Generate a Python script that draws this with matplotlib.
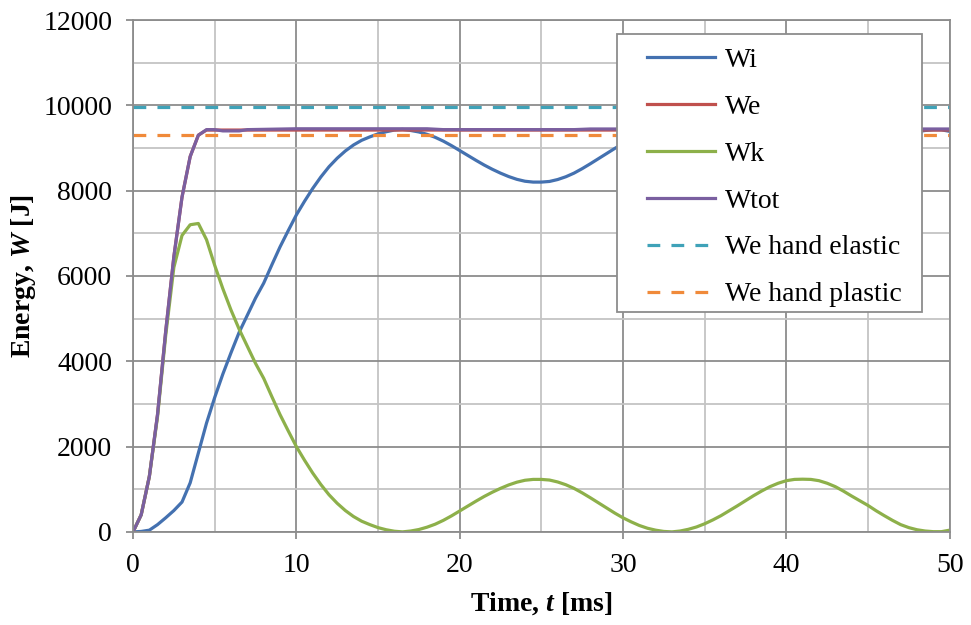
import matplotlib
matplotlib.use('Agg')
import matplotlib.pyplot as plt
import numpy as np
from matplotlib.ticker import MultipleLocator
from matplotlib.patches import Rectangle

# Serif, Times-like text as in the Excel chart
plt.rcParams['font.family'] = ['Liberation Serif', 'DejaVu Serif']
plt.rcParams['mathtext.fontset'] = 'custom'
plt.rcParams['mathtext.it'] = 'Liberation Serif:bold:italic'
plt.rcParams['mathtext.rm'] = 'Liberation Serif:bold'

# time grid [ms], 0.5 ms steps
t = np.arange(0, 50.5, 0.5)

# Energies [J]
Wi = [0, 10, 40, 170, 330, 500, 700, 1150, 1850, 2550,
      3150, 3700, 4200, 4680, 5080, 5480, 5830, 6260, 6680, 7060,
      7430, 7750, 8050, 8320, 8560, 8760, 8930, 9070, 9180, 9260,
      9330, 9380, 9420, 9435, 9410, 9375, 9320, 9250, 9160, 9055,
      8940, 8825, 8710, 8600, 8500, 8410, 8330, 8265, 8220, 8200,
      8200, 8215, 8260, 8325, 8410, 8515, 8630, 8750, 8870, 8990,
      9100, 9195, 9280, 9345, 9390, 9420, 9430, 9410, 9370, 9315,
      9240, 9150, 9050, 8935, 8820, 8700, 8580, 8470, 8370, 8290,
      8230, 8200, 8195, 8200, 8230, 8290, 8370, 8475, 8590, 8700,
      8810, 8935, 9050, 9160, 9260, 9330, 9380, 9410, 9425, 9425,
      9390]
Wk = [0, 400, 1300, 2700, 4600, 6200, 6950, 7200, 7230, 6850,
      6250, 5700, 5200, 4750, 4350, 3950, 3600, 3170, 2750, 2370,
      2000, 1680, 1380, 1110, 870, 670, 500, 360, 250, 170,
      100, 50, 15, 0, 20, 55, 110, 180, 270, 375,
      490, 605, 720, 830, 930, 1020, 1100, 1165, 1210, 1230,
      1230, 1215, 1170, 1105, 1020, 915, 800, 680, 560, 440,
      330, 235, 150, 85, 40, 10, 0, 20, 60, 115,
      190, 280, 380, 495, 610, 730, 850, 960, 1060, 1140,
      1200, 1230, 1235, 1230, 1200, 1140, 1060, 955, 840, 730,
      620, 495, 380, 270, 170, 100, 50, 20, 5, 5,
      40]

t_we = [0, 0.5, 1, 1.5, 2, 2.5, 3, 3.5, 4, 4.5, 10, 20, 30, 40, 50]
We = [0, 400, 1300, 2750, 4700, 6450, 7850, 8800, 9300, 9420,
      9420, 9420, 9420, 9420, 9420]

t_tot = [0, 0.5, 1, 1.5, 2, 2.5, 3, 3.5, 4, 4.5, 5, 5.5, 6.5, 7,
         10, 18, 19, 27, 28, 50]
Wtot = [0, 400, 1300, 2750, 4700, 6450, 7850, 8800, 9300, 9430,
        9430, 9400, 9400, 9430, 9450, 9450, 9430, 9430, 9445, 9445]

We_elastic = 9960
We_plastic = 9300

fig = plt.figure(figsize=(9.71, 6.25), dpi=100)
ax = fig.add_axes([0.137, 0.149, 0.841, 0.819])

lw = 2.3
ax.plot(t, Wi, color='#4471B0', lw=lw, label='Wi')
ax.plot(t_we, We, color='#C0504D', lw=lw, label='We')
ax.plot(t, Wk, color='#8DB04A', lw=lw, label='Wk')
ax.plot(t_tot, Wtot, color='#7A5FA0', lw=lw, label='Wtot')
ax.plot([0, 50], [We_elastic, We_elastic], color='#3FA2B8', lw=lw,
        dashes=(4, 3.5), label='We hand elastic')
ax.plot([0, 50], [We_plastic, We_plastic], color='#F08A3A', lw=lw,
        dashes=(4, 3.5), label='We hand plastic')

ax.set_xlim(0, 50)
ax.set_ylim(0, 12000)
ax.xaxis.set_major_locator(MultipleLocator(10))
ax.xaxis.set_minor_locator(MultipleLocator(5))
ax.yaxis.set_major_locator(MultipleLocator(2000))
ax.yaxis.set_minor_locator(MultipleLocator(1000))
ax.grid(which='major', color='#8C8C8C', lw=1.3)
ax.grid(which='minor', color='#C4C4C4', lw=1.3)
ax.set_axisbelow(True)
for s in ax.spines.values():
    s.set_color('#8C8C8C')
    s.set_linewidth(1.3)
ax.tick_params(which='major', length=5, width=1.3, color='#8C8C8C',
               labelsize=20)
ax.tick_params(axis='x', pad=10)
ax.tick_params(axis='y', pad=10)
ax.tick_params(which='minor', length=0)

ax.set_xlabel(r'Time, $t$ [ms]', fontsize=20, fontweight='bold', labelpad=9)
ax.set_ylabel(r'Energy, $W$ [J]', fontsize=20, fontweight='bold', labelpad=4)

# legend box (Excel style: wide left margin, tight top/bottom)
ax.add_patch(Rectangle((0.5924, 0.4297), 0.3733, 0.543, transform=ax.transAxes,
                       facecolor='white', edgecolor='#8C8C8C', lw=1.3,
                       zorder=4, clip_on=False))
leg = ax.legend(loc='upper left', bbox_to_anchor=(0.629, 0.946),
                fontsize=20, handlelength=2.45, handletextpad=0.36,
                labelspacing=0.77, borderpad=0, borderaxespad=0,
                frameon=False)
leg.set_zorder(5)

fig.savefig('out.png', dpi=100)
